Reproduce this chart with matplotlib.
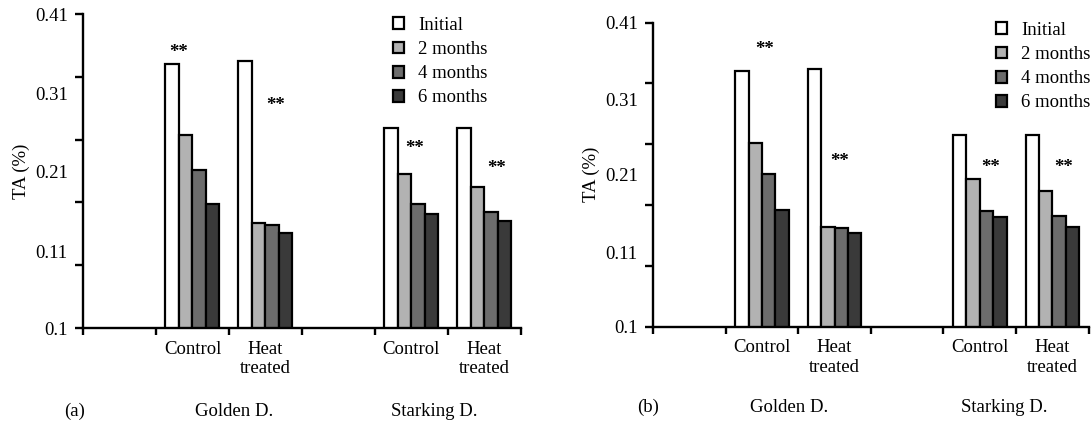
import numpy as np
import matplotlib
matplotlib.use("Agg")
import matplotlib.pyplot as plt
from matplotlib.ticker import FixedLocator, NullFormatter, FixedFormatter

plt.rcParams['font.family'] = ['Liberation Serif', 'DejaVu Serif']
plt.rcParams['font.size'] = 13.5

# Data
stages = ['Initial', '2 months', '4 months', '6 months']
categories = ['', 'Control', 'Heat\ntreated', '', 'Control', 'Heat\ntreated']
cultivars = ['Golden D.', 'Starking D.']
group_slots = [1, 2, 4, 5]  # Golden control, Golden heat, Starking control, Starking heat

# TA (%) per group (rows) and storage stage (columns)
ta_a = [[0.310, 0.254, 0.226, 0.199],
        [0.313, 0.184, 0.182, 0.176],
        [0.259, 0.223, 0.199, 0.191],
        [0.259, 0.2125, 0.192, 0.185]]
ta_b = [[0.310, 0.251, 0.2255, 0.196],
        [0.312, 0.182, 0.1816, 0.177],
        [0.258, 0.2216, 0.195, 0.190],
        [0.258, 0.2117, 0.191, 0.182]]

# significance marks: (x offset in category units, y value)
stars_a = [(-0.185, 0.319), (0.144, 0.277), (0.048, 0.243), (0.171, 0.227)]
stars_b = [(0.03, 0.328), (0.065, 0.236), (0.15, 0.231), (0.15, 0.231)]

ytick_labels = ['0.1', '0.11', '0.21', '0.31', '0.41']
ytick_label_pos = [0.10, 0.161, 0.225, 0.287, 0.35]

colors = ['white', '#b2b2b2', '#6c6c6c', '#3a3a3a']
bar_w = 0.185


def draw_panel(ax, ta, stars, tag, cultivar_x):
    for g, slot in enumerate(group_slots):
        for s in range(4):
            x = slot + 0.5 + (s - 1.5) * bar_w
            ax.bar(x, ta[g][s], width=bar_w, color=colors[s], edgecolor='black',
                   linewidth=1.6, label=stages[s] if g == 0 else None)
        dx, sy = stars[g]
        ax.text(slot + 0.5 + dx, sy, '**', ha='center', va='center',
                fontsize=13.5, fontweight='bold')

    ax.set_xlim(0, 6)
    ax.set_ylim(0.1, 0.35)
    for sp in ['top', 'right']:
        ax.spines[sp].set_visible(False)
    for sp in ['left', 'bottom']:
        ax.spines[sp].set_linewidth(1.7)

    ax.yaxis.remove_overlapping_locs = False
    ax.xaxis.remove_overlapping_locs = False
    ax.yaxis.set_major_locator(FixedLocator(np.arange(0.1, 0.351, 0.05)))
    ax.yaxis.set_major_formatter(NullFormatter())
    ax.yaxis.set_minor_locator(FixedLocator(ytick_label_pos))
    ax.yaxis.set_minor_formatter(FixedFormatter(ytick_labels))
    ax.tick_params(axis='y', which='major', length=6, width=1.7, direction='out')
    ax.tick_params(axis='y', which='minor', length=0, pad=11)

    ax.xaxis.set_major_locator(FixedLocator(np.arange(0, 7)))
    ax.xaxis.set_major_formatter(NullFormatter())
    ax.xaxis.set_minor_locator(FixedLocator(np.arange(6) + 0.5))
    ax.xaxis.set_minor_formatter(FixedFormatter(categories))
    ax.tick_params(axis='x', which='major', length=5, width=1.7, direction='out')
    ax.tick_params(axis='x', which='minor', length=0, pad=9)

    ax.set_ylabel('TA (%)')
    ax.yaxis.set_label_coords(-0.122, 0.5)

    trans = ax.get_xaxis_transform()
    ax.text(cultivar_x[0], -0.265, tag, transform=trans, ha='center', va='center')
    ax.text(cultivar_x[1], -0.265, cultivars[0], transform=trans, ha='center', va='center')
    ax.text(cultivar_x[2], -0.265, cultivars[1], transform=trans, ha='center', va='center')


fig = plt.figure(figsize=(10.92, 4.26), dpi=100)
ax_a = fig.add_axes([0.076, 0.230, 0.401, 0.737])
ax_b = fig.add_axes([0.598, 0.2324, 0.399, 0.7146])

draw_panel(ax_a, ta_a, stars_a, '(a)', [-0.12, 2.07, 4.81])
draw_panel(ax_b, ta_b, stars_b, '(b)', [-0.07, 1.88, 4.84])

for ax, anchor in [(ax_a, (393 / 1092, 1 - 17 / 426)), (ax_b, (996 / 1092, 1 - 22 / 426))]:
    ax.legend(loc='upper left', bbox_to_anchor=anchor, bbox_transform=fig.transFigure,
              frameon=False, borderpad=0, handlelength=0.6, handleheight=0.6,
              handletextpad=0.75, labelspacing=0.38, borderaxespad=0)

fig.savefig('out.png', dpi=100)
